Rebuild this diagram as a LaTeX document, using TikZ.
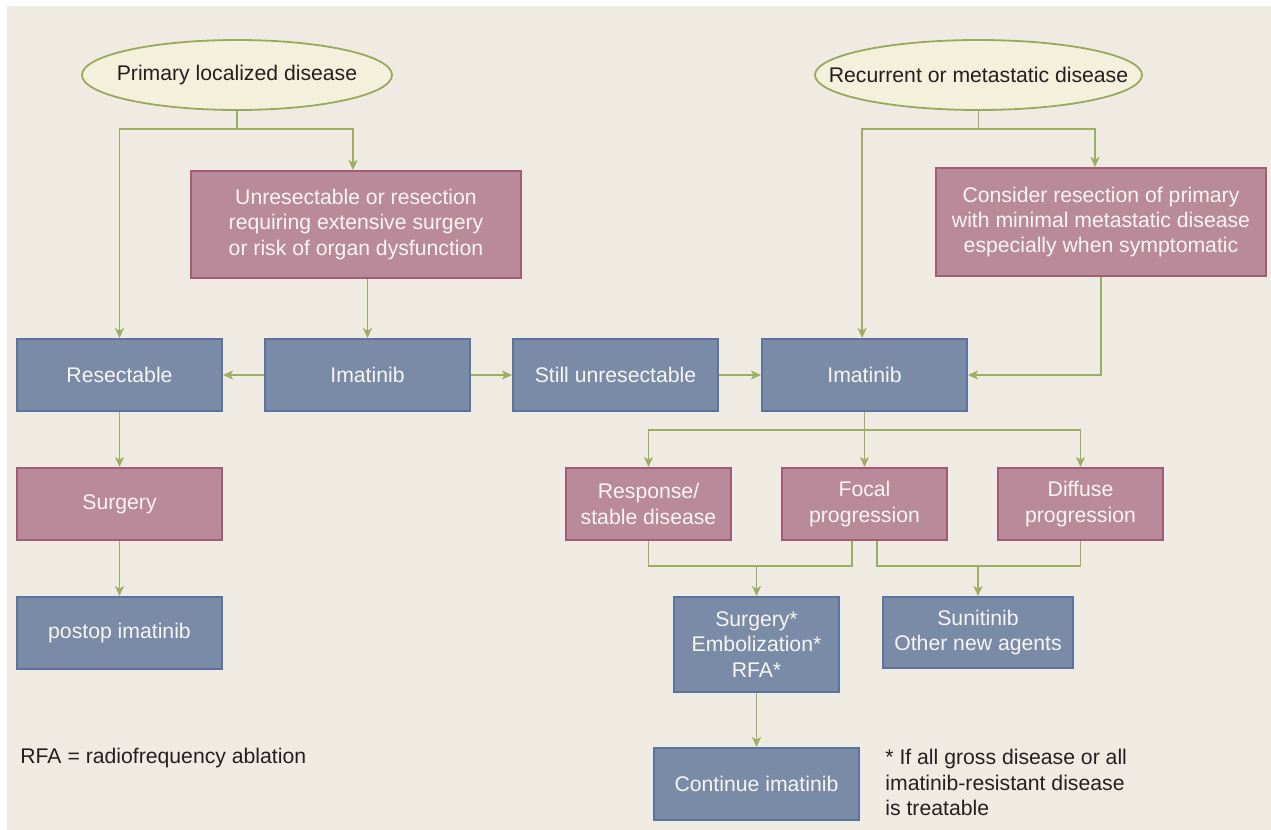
\documentclass[tikz,border=0pt]{standalone}
\usepackage{fontspec}
\setmainfont{Liberation Sans}
\usepackage{xcolor}
\usetikzlibrary{shapes.geometric,arrows.meta,positioning,calc}
\definecolor{bgcol}{RGB}{239,235,226}
\definecolor{ovalfill}{RGB}{243,241,220}
\definecolor{ovalline}{RGB}{151,170,92}
\definecolor{linkcol}{RGB}{155,174,98}
\definecolor{bluefill}{RGB}{122,139,168}
\definecolor{blueline}{RGB}{91,116,157}
\definecolor{pinkfill}{RGB}{185,138,153}
\definecolor{pinkline}{RGB}{163,92,118}
\definecolor{boxtext}{RGB}{248,246,242}
\definecolor{darktext}{RGB}{35,31,32}

\begin{document}
\begin{tikzpicture}[x=0.5pt, y=-0.5pt,
  every node/.style={font=\fontsize{10.6}{12.7}\selectfont},
  start/.style={draw=ovalline, line width=0.9pt, fill=ovalfill, ellipse,
                inner xsep=-20pt, inner ysep=0pt, minimum height=35pt, text=darktext},
  act/.style={draw=blueline, line width=1pt, fill=bluefill, text=boxtext,
              inner sep=2pt, minimum width=102.5pt, minimum height=36pt, align=center},
  cond/.style={draw=pinkline, line width=1pt, fill=pinkfill, text=boxtext,
               inner sep=2pt, minimum width=82.5pt, minimum height=36pt, align=center},
  note/.style={text=darktext, inner sep=1pt, align=left},
  link/.style={draw=linkcol, line width=0.8pt},
  bus/.style={link, -{Stealth[length=5pt, width=4.5pt, inset=1.3pt]}}
]
\useasboundingbox (0,0) rectangle (1271,830);
\fill[bgcol] (7,6) rectangle (1271,830);
% Starting points
\node[start, minimum width=155pt] (prim) at (237,75) {Primary localized disease};
\node[start, minimum width=163.5pt] (recur) at (978.5,75) {Recurrent or metastatic disease};
% Upper conditions
\node[cond, minimum width=165pt, minimum height=53.5pt] (unres) at (356,224.5)
  {Unresectable or resection\\requiring extensive surgery\\or risk of organ dysfunction};
\node[cond, minimum width=165pt, minimum height=54pt] (consid) at (1101,222)
  {Consider resection of primary\\with minimal metastatic disease\\especially when symptomatic};
% Middle row
\node[act] (resect) at (119.5,375) {Resectable};
\node[act] (imat1) at (367.5,375) {Imatinib};
\node[act] (still) at (615.5,375) {Still unresectable};
\node[act] (imat2) at (864.5,375) {Imatinib};
% Left column
\node[cond, minimum width=102.5pt] (surg) at (119.5,504) {Surgery};
\node[act] (postop) at (119.5,633) {postop imatinib};
% Responses
\node[cond] (resp) at (648.5,504) {Response/\\stable disease};
\node[cond] (focal) at (864.5,504) {Focal\\progression};
\node[cond] (diffuse) at (1080.5,504) {Diffuse\\progression};
% Treatments
\node[act, minimum width=82.5pt, minimum height=47.5pt] (local) at (756.5,644.5)
  {Surgery*\\Embolization*\\RFA*};
\node[act, minimum width=95pt, minimum height=35.5pt] (sunit) at (978,632.5)
  {Sunitinib\\Other new agents};
\node[act] (cont) at (756.5,784) {Continue imatinib};
% Notes
\node[note, anchor=west] (abbr) at (18,758) {RFA = radiofrequency ablation};
\node[note, anchor=north west] (foot) at (883,747)
  {* If all gross disease or all\\imatinib-resistant disease\\is treatable};
% Connections
\coordinate (pl) at (237,129);
\coordinate (rl) at (978.5,129);
\coordinate (il) at (864.5,430);
\coordinate (j1) at (756.5,566);
\coordinate (j2) at (978,566);
\draw[link] (prim) -- (pl);
\draw[bus] (pl) -| (resect.north);
\draw[bus] (pl) -| ([xshift=-1.5pt]unres.north);
\draw[bus] (unres.south -| imat1.north) -- (imat1.north);
\draw[bus] (imat1) -- (resect);
\draw[bus] (imat1) -- (still);
\draw[bus] (still) -- (imat2);
\draw[link] (recur) -- (rl);
\draw[bus] (rl) -| ([xshift=-1.2pt]imat2.north);
\draw[bus] (rl) -| ([xshift=-3pt]consid.north);
\draw[bus] (consid.south) |- (imat2.east);
\draw[bus] (resect) -- (surg);
\draw[bus] (surg) -- (postop);
\draw[link] (imat2) -- (il);
\draw[bus] (il) -| (resp.north);
\draw[bus] (il) -- (focal.north);
\draw[bus] (il) -| (diffuse.north);
\draw[link] (resp.south) |- (j1) -| ([xshift=-6.25pt]focal.south);
\draw[link] ([xshift=6.25pt]focal.south) |- (j2) -| (diffuse.south);
\draw[bus] (j1) -- (local.north);
\draw[bus] (j2) -- (sunit.north);
\draw[bus] (local) -- (cont);
\end{tikzpicture}
\end{document}
